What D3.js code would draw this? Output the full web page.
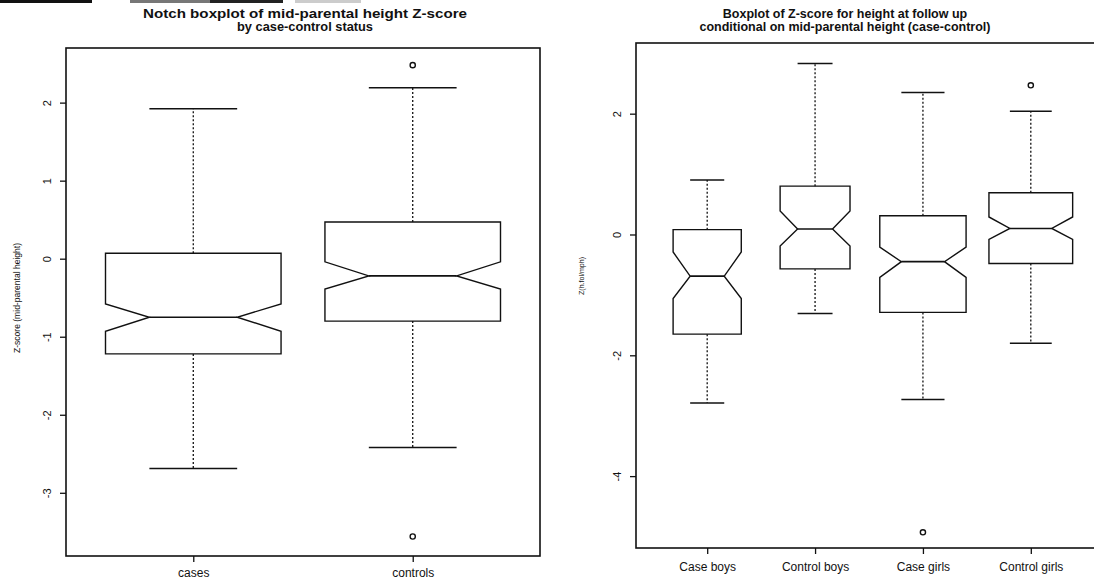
<!DOCTYPE html>
<html><head><meta charset="utf-8">
<script src="https://cdn.jsdelivr.net/npm/d3@7"></script>
<style>
body{margin:0;background:#fff}
svg{display:block}
text{font-family:"Liberation Sans",Arial,Helvetica,sans-serif;fill:#111}
</style>
</head><body>
<svg id="chart" width="1094" height="579"></svg>
<script>
// ---------- Left panel data ----------
const leftCategories = ["cases", "controls"];
const leftLowerWhisker = [-2.69, -2.42];
const leftQ1 = [-1.22, -0.80];
const leftNotchLow = [-0.93, -0.39];
const leftMedian = [-0.75, -0.22];
const leftNotchHigh = [-0.58, -0.04];
const leftQ3 = [0.07, 0.47];
const leftUpperWhisker = [1.92, 2.19];
const leftOutliers = [[], [2.48, -3.56]];
const leftRelWidth = [1, 1];
const leftTicks = [-3, -2, -1, 0, 1, 2];
const leftTitle = ["Notch boxplot of mid-parental height Z-score", "by case-control status"];
const leftYLabel = "Z-score (mid-parental height)";

// ---------- Right panel data ----------
const rightCategories = ["Case boys", "Control boys", "Case girls", "Control girls"];
const rightLowerWhisker = [-2.79, -1.31, -2.73, -1.80];
const rightQ1 = [-1.65, -0.57, -1.29, -0.48];
const rightNotchLow = [-1.06, -0.19, -0.71, -0.08];
const rightMedian = [-0.69, 0.09, -0.45, 0.10];
const rightNotchHigh = [-0.29, 0.39, -0.21, 0.29];
const rightQ3 = [0.08, 0.80, 0.31, 0.69];
const rightUpperWhisker = [0.90, 2.83, 2.35, 2.04];
const rightOutliers = [[], [], [-4.93], [2.47]];
const rightRelWidth = [0.79, 0.81, 1.0, 0.97];
const rightTicks = [-4, -2, 0, 2];
const rightTitle = ["Boxplot of Z-score for height at follow up", "conditional on mid-parental height (case-control)"];
const rightYLabel = "Z(h.fol/mph)";

const svg = d3.select("#chart");

// scan artefact bar at the very top
[[0, 92, "#111"], [130, 80, "#777"], [210, 73, "#222"], [295, 66, "#ccc"]].forEach(([x0, w, c]) => {
  svg.append("rect").attr("x", x0).attr("y", 0).attr("width", w).attr("height", 3).attr("fill", c);
});

function drawPanel(cfg) {
  const n = cfg.categories.length;
  const x = d3.scaleLinear().domain([0.5 - 0.04 * n, n + 0.5 + 0.04 * n]).range([cfg.left, cfg.right]);
  const y = d3.scaleLinear().domain(cfg.yDomain).range([cfg.bottom, cfg.top]);
  const g = svg.append("g");
  const unit = x(2) - x(1);

  // title
  cfg.title.forEach((t, i) => {
    const tt = g.append("text").attr("x", cfg.titleX).attr("y", 18 + i * 13)
      .attr("text-anchor", "middle").attr("font-weight", "bold").attr("font-size", cfg.titleSize)
      .text(t);
    if (cfg.titleLen) tt.attr("textLength", cfg.titleLen[i]).attr("lengthAdjust", "spacingAndGlyphs");
  });

  // y axis
  const ya = g.append("g").attr("transform", `translate(${cfg.left},0)`)
    .call(d3.axisLeft(y).tickValues(cfg.ticks).tickSize(6).tickSizeOuter(0).tickFormat(d => String(d)));
  ya.select(".domain").remove();
  ya.selectAll("line").attr("stroke", "#111").attr("stroke-width", 1.3);
  ya.selectAll("text").attr("x", null).attr("dy", null)
    .attr("transform", "translate(-19,0) rotate(-90)")
    .attr("text-anchor", "middle").attr("dominant-baseline", "central")
    .attr("font-size", 11).attr("font-family", null).attr("fill", "#111");

  // x axis
  const xa = g.append("g").attr("transform", `translate(0,${cfg.bottom})`)
    .call(d3.axisBottom(x).tickValues(d3.range(1, n + 1)).tickSize(6).tickSizeOuter(0)
      .tickFormat((d, i) => cfg.categories[i]));
  xa.select(".domain").remove();
  xa.selectAll("line").attr("stroke", "#111").attr("stroke-width", 1.3);
  xa.selectAll("text").attr("y", cfg.xLabelOffset).attr("dy", null)
    .attr("dominant-baseline", "central")
    .attr("font-size", cfg.xLabelSize).attr("font-family", null).attr("fill", "#111");

  // y label
  g.append("text").attr("transform", `translate(${cfg.yLabelX},${cfg.yLabelY}) rotate(-90)`)
    .attr("text-anchor", "middle").attr("dominant-baseline", "central")
    .attr("font-size", cfg.yLabelSize).attr("textLength", cfg.yLabelLen).attr("lengthAdjust", "spacingAndGlyphs")
    .text(cfg.yLabel);

  // boxes
  const data = cfg.categories.map((c, i) => ({
    c, i, pos: i + 1,
    lw: cfg.lw[i], q1: cfg.q1[i], nl: cfg.nl[i], med: cfg.med[i], nh: cfg.nh[i], q3: cfg.q3[i], uw: cfg.uw[i],
    out: cfg.out[i], hw: 0.4 * cfg.rel[i]
  }));
  const bg = g.selectAll("g.box").data(data).join("g").attr("class", "box");

  bg.each(function (d) {
    const s = d3.select(this);
    const cx = x(d.pos), hw = d.hw * unit;
    // whiskers
    s.append("line").attr("x1", cx).attr("x2", cx).attr("y1", y(d.q3)).attr("y2", y(d.uw))
      .attr("stroke", "#111").attr("stroke-width", 1.3).attr("stroke-dasharray", "2,2");
    s.append("line").attr("x1", cx).attr("x2", cx).attr("y1", y(d.q1)).attr("y2", y(d.lw))
      .attr("stroke", "#111").attr("stroke-width", 1.3).attr("stroke-dasharray", "2,2");
    // staples
    [d.uw, d.lw].forEach(v => {
      s.append("line").attr("x1", cx - hw / 2).attr("x2", cx + hw / 2).attr("y1", y(v)).attr("y2", y(v))
        .attr("stroke", "#111").attr("stroke-width", 1.5);
    });
    // notched box
    const pts = [
      [cx - hw, y(d.q1)], [cx - hw, y(d.nl)], [cx - hw / 2, y(d.med)], [cx - hw, y(d.nh)], [cx - hw, y(d.q3)],
      [cx + hw, y(d.q3)], [cx + hw, y(d.nh)], [cx + hw / 2, y(d.med)], [cx + hw, y(d.nl)], [cx + hw, y(d.q1)]
    ];
    s.append("path").attr("d", d3.line()(pts) + "Z")
      .attr("fill", "none").attr("stroke", "#111").attr("stroke-width", 1.4).attr("stroke-linejoin", "miter");
    // median
    s.append("line").attr("x1", cx - hw / 2).attr("x2", cx + hw / 2).attr("y1", y(d.med)).attr("y2", y(d.med))
      .attr("stroke", "#111").attr("stroke-width", 1.6);
    // outliers
    s.selectAll("circle").data(d.out).join("circle")
      .attr("cx", cx).attr("cy", v => y(v)).attr("r", 2.6)
      .attr("fill", "none").attr("stroke", "#111").attr("stroke-width", 1.4);
  });

  // plot border
  g.append("rect").attr("x", cfg.left).attr("y", cfg.top)
    .attr("width", cfg.right - cfg.left).attr("height", cfg.bottom - cfg.top)
    .attr("fill", "none").attr("stroke", "#111").attr("stroke-width", 1.6);
}

drawPanel({
  categories: leftCategories, lw: leftLowerWhisker, q1: leftQ1, nl: leftNotchLow, med: leftMedian,
  nh: leftNotchHigh, q3: leftQ3, uw: leftUpperWhisker, out: leftOutliers, rel: leftRelWidth,
  ticks: leftTicks, title: leftTitle, yLabel: leftYLabel,
  left: 66, right: 540, top: 48, bottom: 556, yDomain: [-3.81, 2.70],
  titleX: 305, titleSize: 12.5, titleLen: [324, 136],
  yLabelX: 17, yLabelY: 298, yLabelSize: 9, yLabelLen: 110, xLabelOffset: 17, xLabelSize: 12
});

drawPanel({
  categories: rightCategories, lw: rightLowerWhisker, q1: rightQ1, nl: rightNotchLow, med: rightMedian,
  nh: rightNotchHigh, q3: rightQ3, uw: rightUpperWhisker, out: rightOutliers, rel: rightRelWidth,
  ticks: rightTicks, title: rightTitle, yLabel: rightYLabel,
  left: 636, right: 1102, top: 43, bottom: 548, yDomain: [-5.19, 3.17],
  titleX: 845, titleSize: 12.5, titleLen: null,
  yLabelX: 581, yLabelY: 276, yLabelSize: 8, yLabelLen: 38, xLabelOffset: 19, xLabelSize: 12
});
</script>
</body></html>
